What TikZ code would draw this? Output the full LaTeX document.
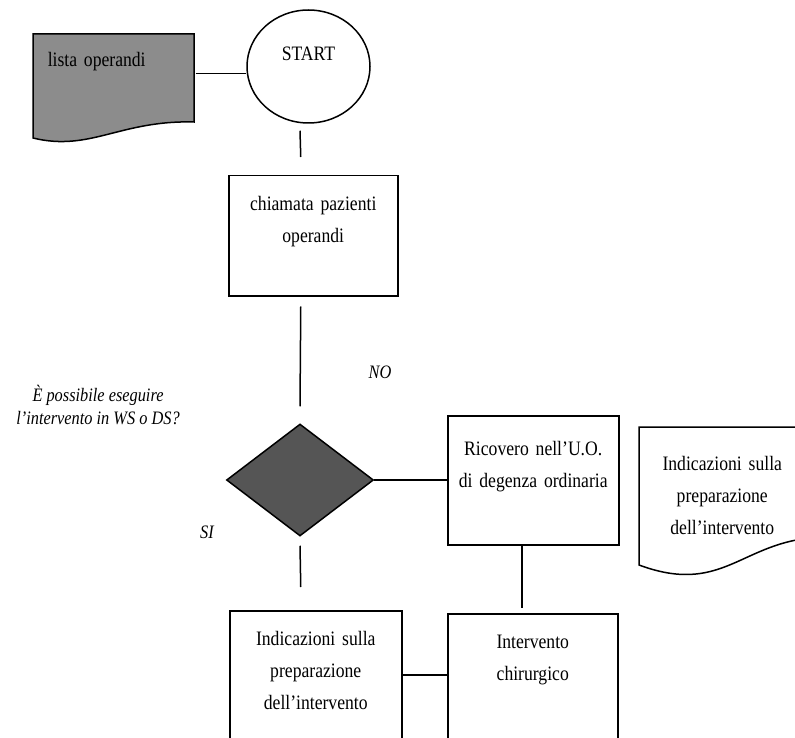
\documentclass[tikz,border=0pt]{standalone}
\usepackage{fontspec}
\setmainfont{Liberation Serif}[FakeStretch=0.86]
\usetikzlibrary{shapes.geometric,calc}
\definecolor{docgray}{RGB}{140,140,140}
\definecolor{decgray}{RGB}{85,85,85}

\begin{document}
\begin{tikzpicture}[x=1pt, y=-1pt, line width=1.5pt,
    box/.style={draw, rectangle, inner sep=0pt, anchor=north west, align=center, font=\fontsize{20.5}{32}\selectfont},
    lbl/.style={font=\fontsize{19}{23}\selectfont\itshape, align=center}]
    \useasboundingbox (0,0) rectangle (795,738);

    % documents (drawn first, text on top)
    \filldraw[fill=docgray] (33,34) -- (194,34) -- (194,122) .. controls (120,120) and (90,152) .. (33,138) -- cycle;
    \draw (639,427) -- (810,427) -- (810,538) .. controls (740,545) and (720,595) .. (639,565) -- cycle;

    \node[anchor=north west, inner sep=0pt, text width=161pt, align=left, text height=32pt, text depth=46pt, font=\fontsize{20.5}{32}\selectfont] (lista) at (33,34) {\hspace*{14pt}lista operandi};
    \node[ellipse, draw, minimum width=123pt, minimum height=113pt, inner sep=0pt, text depth=26pt, font=\fontsize{20.5}{32}\selectfont] (start) at (308.5,66.5) {START};
    \node[box, text width=169pt, text height=35pt, text depth=85pt] (chiamata) at (228,175) {chiamata pazienti\\operandi};
    \node[diamond, draw, fill=decgray, minimum width=147pt, minimum height=112pt, inner sep=0pt] (dec) at (300,480) {};
    \node[box, text width=171pt, text height=40pt, text depth=89pt] (ricovero) at (447,415) {Ricovero nell'U.O.\\di degenza ordinaria};
    \node[box, draw=none, text width=165pt, text height=43pt, text depth=95pt] (prep) at (639,427) {Indicazioni sulla\\preparazione\\dell'intervento};
    \node[box, text width=172pt, text height=35pt, text depth=93pt] (indic) at (229,610) {Indicazioni sulla\\preparazione\\dell'intervento};
    \node[box, text width=170pt, text height=35pt, text depth=90pt] (interv) at (447,613) {Intervento\\chirurgico};

    \node[lbl] (quest) at (98,405) {È possibile eseguire\\l'intervento in WS o DS?};
    \node[lbl] (no) at (380,372) {NO};
    \node[lbl] (si) at (207,532) {SI};

    \draw (lista.east) -- (lista.east -| start.west);
    \draw ([xshift=-8.5pt,yshift=-7pt]start.south) -- ([xshift=-12.5pt,yshift=18pt]chiamata.north);
    \draw ([xshift=-12.5pt,yshift=-10pt]chiamata.south) -- ([yshift=17pt]dec.north);
    \draw (dec.east) -- (dec.east -| ricovero.west);
    \draw ([yshift=-9pt]dec.south) -- ([xshift=-15pt,yshift=23pt]indic.north);
    \draw ([xshift=-11.5pt]ricovero.south) -- ([xshift=-11pt,yshift=5pt]interv.north);
    \draw (indic.east) -- (indic.east -| interv.west);
\end{tikzpicture}
\end{document}
